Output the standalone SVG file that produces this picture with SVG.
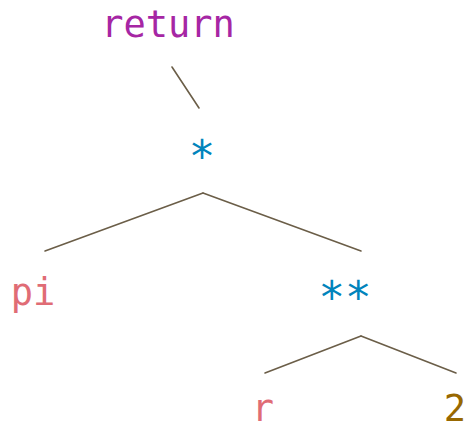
<svg xmlns="http://www.w3.org/2000/svg" width="469" height="430" viewBox="0 0 469 430">
  <style>
    text { font-family: "DejaVu Sans Mono", "Liberation Mono", monospace; font-size: 37px; text-anchor: middle; }
    .kw { fill: #a626a4; }
    .op { fill: #0184bc; font-size: 44px; }
    .id { fill: #e06c75; }
    .num { fill: #986801; }
    .edge { stroke: #6b5e48; stroke-width: 1.6; fill: none; stroke-linecap: round; }
  </style>
  <rect width="469" height="430" fill="#ffffff"/>
  <g id="connectors">
    <line class="edge" x1="172" y1="67" x2="199" y2="108"/>
    <line class="edge" x1="203" y1="193" x2="45" y2="251"/>
    <line class="edge" x1="203" y1="193" x2="361" y2="251"/>
    <line class="edge" x1="361" y1="336" x2="265" y2="373"/>
    <line class="edge" x1="361" y1="336" x2="456" y2="373"/>
  </g>
  <g id="node-return"><text class="kw" x="168" y="37">return</text></g>
  <g id="node-mul"><text class="op" x="202" y="172">*</text></g>
  <g id="node-pi"><text class="id" x="33" y="305">pi</text></g>
  <g id="node-pow"><text class="op" x="345" y="313">**</text></g>
  <g id="node-r"><text class="id" x="263" y="421">r</text></g>
  <g id="node-2"><text class="num" x="455" y="421">2</text></g>
</svg>
